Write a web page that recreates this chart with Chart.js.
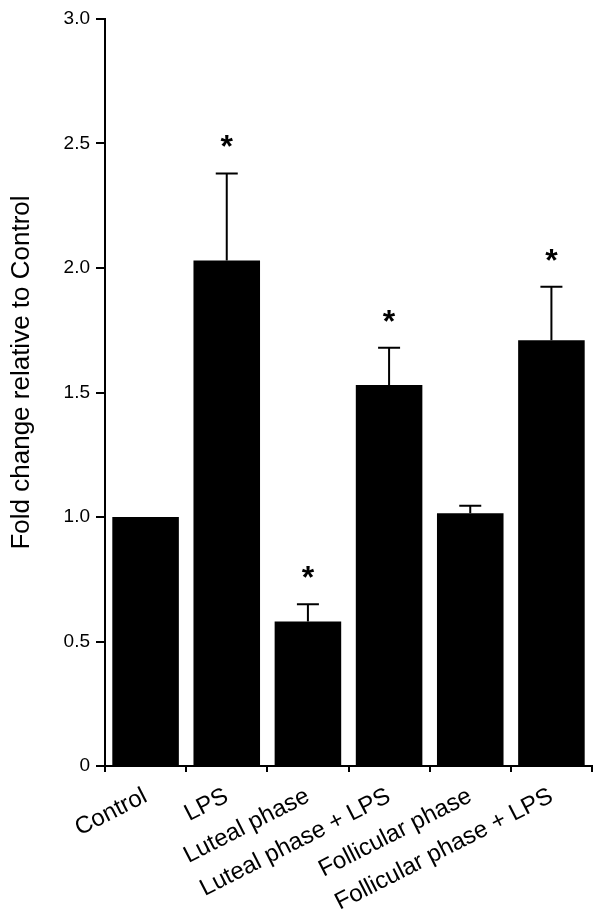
<!DOCTYPE html>
<html>
<head>
<meta charset="utf-8">
<script src="https://cdn.jsdelivr.net/npm/chart.js@4"></script>
<style>
  html, body { margin: 0; padding: 0; background: #fff; }
  #wrap { width: 600px; height: 917px; }
</style>
</head>
<body>
<div id="wrap"><canvas id="myChart" width="600" height="917"></canvas></div>
<script>
const categories = ["Control", "LPS", "Luteal phase", "Luteal phase + LPS", "Follicular phase", "Follicular phase + LPS"];
const fold_change = [1.0, 2.03, 0.58, 1.53, 1.015, 1.71];
const error_top = [null, 2.38, 0.65, 1.68, 1.045, 1.925];
const significant = [false, true, true, true, false, true];
const y_ticks = [0, 0.5, 1.0, 1.5, 2.0, 2.5, 3.0];
const y_title = 'Fold change relative to Control';

const FONT = "'Liberation Sans', Arial, Helvetica, sans-serif";

// error bars (upper only) and asterisks
const errorBarPlugin = {
    id: 'errorBars',
    afterDatasetsDraw(chart) {
        let ctx = chart.ctx;
        let meta = chart.getDatasetMeta(0);
        let y = chart.scales.y;
        ctx.save();
        ctx.strokeStyle = '#000';
        ctx.lineWidth = 2;
        for (let i = 0; i < fold_change.length; i++) {
            let bar = meta.data[i];
            let top = error_top[i];
            let yBar = y.getPixelForValue(fold_change[i]);
            let yMark = yBar;
            if (top !== null) {
                let yTop = y.getPixelForValue(top);
                ctx.beginPath();
                ctx.moveTo(bar.x, yBar);
                ctx.lineTo(bar.x, yTop);
                ctx.moveTo(bar.x - 11, yTop);
                ctx.lineTo(bar.x + 11, yTop);
                ctx.stroke();
                yMark = yTop;
            }
            if (significant[i]) {
                ctx.fillStyle = '#000';
                ctx.font = "bold 32px " + FONT;
                ctx.textAlign = 'center';
                ctx.textBaseline = 'alphabetic';
                ctx.fillText('*', bar.x, yMark - 16);
            }
        }
        ctx.restore();
    }
};

// y title sits a little above the middle of the axis in the original
const yTitlePlugin = {
    id: 'yTitle',
    afterDraw(chart) {
        let ctx = chart.ctx;
        let area = chart.chartArea;
        ctx.save();
        ctx.translate(22, (area.top + area.bottom) / 2 - 20);
        ctx.rotate(-Math.PI / 2);
        ctx.fillStyle = '#000';
        ctx.font = "26px " + FONT;
        ctx.textAlign = 'center';
        ctx.textBaseline = 'middle';
        ctx.fillText(y_title, 0, 0);
        ctx.restore();
    }
};

function makeChart() {
    let ctx = document.getElementById("myChart").getContext('2d');
    return new Chart(ctx, {
        type: 'bar',
        data: {
            labels: categories,
            datasets: [{
                data: fold_change,
                backgroundColor: '#000',
                borderWidth: 0,
                barPercentage: 0.82,
                categoryPercentage: 1.0
            }]
        },
        options: {
            responsive: false,
            animation: false,
            layout: { padding: { top: 19, right: 8, left: 0, bottom: 0 } },
            plugins: { legend: { display: false }, tooltip: { enabled: false } },
            scales: {
                x: {
                    grid: { drawOnChartArea: false, drawTicks: true, tickLength: 6, color: '#000', lineWidth: 2 },
                    border: { display: true, color: '#000', width: 2 },
                    ticks: {
                        color: '#000',
                        font: { family: FONT, size: 24 },
                        maxRotation: 27, minRotation: 27,
                        autoSkip: false,
                        padding: 10
                    },
                    afterFit(scale) { scale.height = 151; }
                },
                y: {
                    min: 0, max: 3.0,
                    afterBuildTicks(scale) { scale.ticks = y_ticks.map(v => ({ value: v })); },
                    grid: { drawOnChartArea: false, drawTicks: true, tickLength: 9, color: '#000', lineWidth: 2 },
                    border: { display: true, color: '#000', width: 2 },
                    ticks: {
                        color: '#000',
                        font: { family: FONT, size: 19 },
                        padding: 6,
                        callback: v => v === 0 ? '0' : Number(v).toFixed(1)
                    },
                    title: { display: false },
                    afterFit(scale) { scale.width = 105; }
                }
            }
        },
        plugins: [errorBarPlugin, yTitlePlugin]
    });
}

let my_chart = makeChart();
</script>
</body>
</html>
